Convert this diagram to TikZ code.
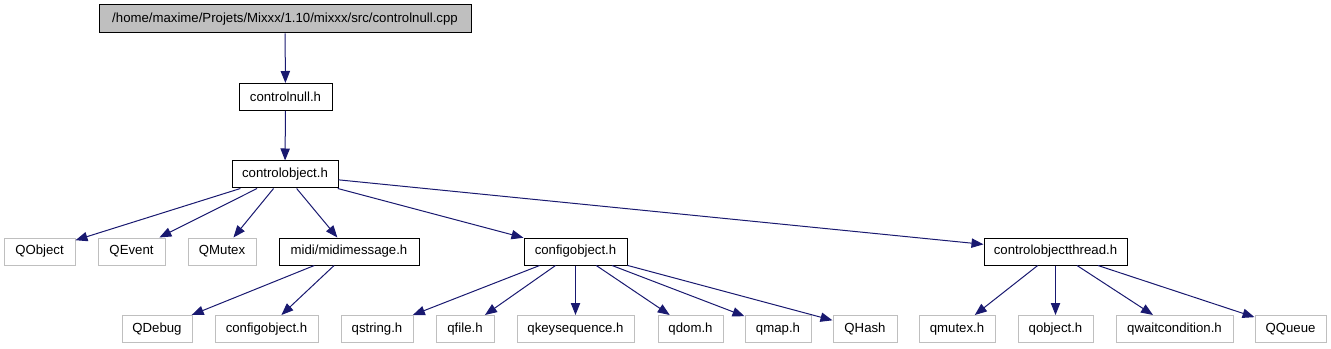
\documentclass[tikz,border=0pt]{standalone}
\usepackage{fontspec}
\setmainfont{Liberation Sans}
\usepackage{xcolor}
\usetikzlibrary{arrows.meta,positioning}
\definecolor{edgeblue}{HTML}{191970}
\definecolor{filegray}{HTML}{BFBFBF}

\begin{document}
\begin{tikzpicture}[
  x=0.75pt, y=-0.75pt,
  every node/.style={draw, rectangle, inner sep=0pt, minimum height=27*0.75pt,
    font=\fontsize{9.9}{11}\selectfont, line width=0.75pt, fill=white},
  ext/.style={draw=filegray},
  wd/.style={minimum width=#1*0.75pt},
  arr/.style={-{Triangle[length=9pt,width=7pt]}, line width=0.75pt, color=edgeblue}
]
\useasboundingbox (0,0) rectangle (1331,349);

% top of the graph
\node[wd=372, fill=filegray, minimum height=28*0.75pt] (cpp) at (285,19)
  {/home/maxime/Projets/Mixxx/1.10/mixxx/src/controlnull.cpp};
\node[wd=93]  (cnull) at (285.5,97)  {controlnull.h};
\node[wd=106] (cobj)  at (285,174.5) {controlobject.h};

% second row
\node[ext, wd=71]  (qobjA)  at (39.5,251.5)   {QObject};
\node[ext, wd=67]  (qevent) at (131.5,251.5)  {QEvent};
\node[ext, wd=68]  (qmutA)  at (222,251.5)    {QMutex};
\node[wd=140]      (midi)   at (349,251.5)    {midi/midimessage.h};
\node[wd=103]      (cfg)    at (575.5,251.5)  {configobject.h};
\node[wd=143]      (cthr)   at (1055.5,251.5) {controlobjectthread.h};

% third row
\node[ext, wd=70]  (qdebug) at (157,329)    {QDebug};
\node[ext, wd=103] (cfgB)   at (266.5,329)  {configobject.h};
\node[ext, wd=72]  (qstr)   at (377,329)    {qstring.h};
\node[ext, wd=58]  (qfile)  at (465,329)    {qfile.h};
\node[ext, wd=117] (qkey)   at (575.5,329)  {qkeysequence.h};
\node[ext, wd=65]  (qdom)   at (690.5,329)  {qdom.h};
\node[ext, wd=66]  (qmap)   at (778,329)    {qmap.h};
\node[ext, wd=64]  (qhash)  at (865,329)    {QHash};
\node[ext, wd=76]  (qmutB)  at (957,329)    {qmutex.h};
\node[ext, wd=75]  (qobjB)  at (1055.5,329) {qobject.h};
\node[ext, wd=117] (qwait)  at (1174.5,329) {qwaitcondition.h};
\node[ext, wd=71]  (qqueue) at (1290.5,329) {QQueue};

\foreach \a/\b in {cpp/cnull, cnull/cobj,
    cobj/qobjA, cobj/qevent, cobj/qmutA, cobj/midi, cobj/cfg, cobj/cthr,
    midi/qdebug, midi/cfgB,
    cfg/qstr, cfg/qfile, cfg/qkey, cfg/qdom, cfg/qmap, cfg/qhash,
    cthr/qmutB, cthr/qobjB, cthr/qwait, cthr/qqueue}
  \draw[arr] (\a) -- (\b);
\end{tikzpicture}
\end{document}
